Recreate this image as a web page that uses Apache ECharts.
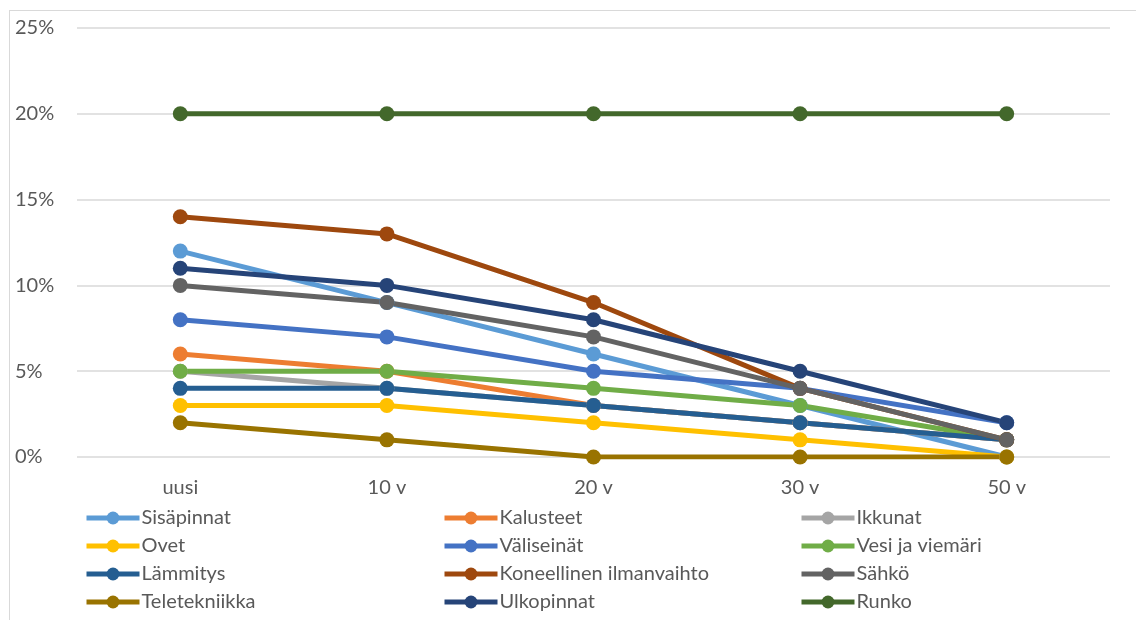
<!DOCTYPE html>
<html><head><meta charset="utf-8">
<script src="https://cdn.jsdelivr.net/npm/echarts@6/dist/echarts.min.js"></script>
<style>
html,body{margin:0;padding:0;background:#fff;overflow:hidden}
#frame{position:absolute;left:9px;top:10px;width:1140px;height:640px;border:1px solid #d9d9d9;box-sizing:border-box}
#c{position:absolute;left:0;top:0;width:1136px;height:620px}
</style></head><body>
<div id="frame"></div>
<div id="c"></div>
<script>
const categories = ['uusi', '10 v', '20 v', '30 v', '50 v'];
const seriesNames = ['Sisäpinnat','Kalusteet','Ikkunat','Ovet','Väliseinät','Vesi ja viemäri','Lämmitys','Koneellinen ilmanvaihto','Sähkö','Teletekniikka','Ulkopinnat','Runko'];
const sisapinnat = [12, 9, 6, 3, 0];
const kalusteet = [6, 5, 3, 2, 1];
const ikkunat = [5, 4, 3, 2, 1];
const ovet = [3, 3, 2, 1, 0];
const valiseinat = [8, 7, 5, 4, 2];
const vesiJaViemari = [5, 5, 4, 3, 1];
const lammitys = [4, 4, 3, 2, 1];
const koneellinenIlmanvaihto = [14, 13, 9, 4, 1];
const sahko = [10, 9, 7, 4, 1];
const teletekniikka = [2, 1, 0, 0, 0];
const ulkopinnat = [11, 10, 8, 5, 2];
const runko = [20, 20, 20, 20, 20];
const yTicks = [0, 5, 10, 15, 20, 25];

const values = [sisapinnat,kalusteet,ikkunat,ovet,valiseinat,vesiJaViemari,lammitys,koneellinenIlmanvaihto,sahko,teletekniikka,ulkopinnat,runko];
const colors = ['#5B9BD5','#ED7D31','#A5A5A5','#FFC000','#4472C4','#70AD47','#255E91','#9E480E','#636363','#997300','#264478','#43682B'];
const font = 'Lato, "Open Sans", sans-serif';

const chart = echarts.init(document.getElementById('c'));
const legendCol = (idx, left) => ({
  orient: 'vertical', left: left, top: 503, height: 140, itemWidth: 53, itemHeight: 16, itemGap: 8,
  data: [0,1,2,3].map(r => seriesNames[r*3+idx]),
  lineStyle: { width: 5 },
  textStyle: { color: '#595959', fontSize: 20, fontFamily: font, padding: [0,0,0,-3] }
});
chart.setOption({
  animation: false,
  color: colors,
  grid: { left: 77, right: 26, top: 28, bottom: 163, containLabel: false },
  legend: [legendCol(0, 79), legendCol(1, 437), legendCol(2, 794)],
  xAxis: {
    type: 'category', data: categories, boundaryGap: true,
    axisLine: { show: false }, axisTick: { show: false },
    axisLabel: { color: '#595959', fontSize: 20, fontFamily: font, margin: 21 }
  },
  yAxis: {
    type: 'value', min: 0, max: 25, interval: 5,
    axisLine: { show: false }, axisTick: { show: false },
    splitLine: { lineStyle: { color: '#d9d9d9', width: 1.5 } },
    axisLabel: { color: '#595959', fontSize: 20, fontFamily: font, align: 'left', margin: 62, formatter: v => v + '%' }
  },
  series: seriesNames.map((n, i) => ({
    name: n, type: 'line', data: values[i],
    symbol: 'circle', symbolSize: 15,
    lineStyle: { width: 5, color: colors[i] },
    itemStyle: { color: colors[i] }
  }))
});
</script>
</body></html>
